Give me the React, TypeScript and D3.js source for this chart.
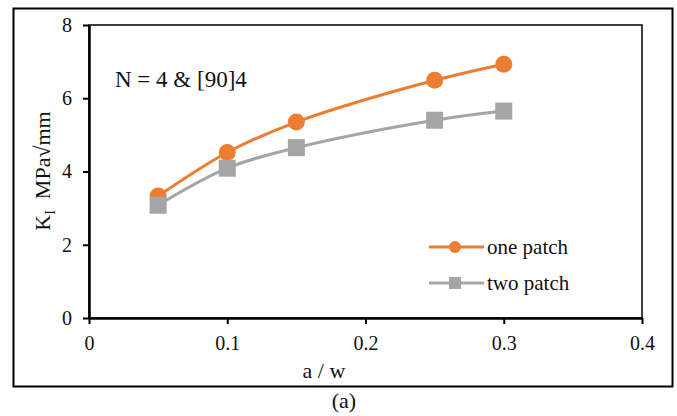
import { useEffect, useRef } from "react";
import * as d3 from "d3";

const W = 677,
  H = 416;
const margin = { top: 25, right: 35, bottom: 98, left: 89 };
const width = 642 - margin.left; // plot right edge at 642
const height = 318 - margin.top; // plot bottom at 318

const xValues = [0.05, 0.1, 0.15, 0.25, 0.3];
const onePatch = [3.33, 4.52, 5.35, 6.49, 6.93];
const twoPatch = [3.08, 4.09, 4.65, 5.4, 5.65];
const xTicks = [0, 0.1, 0.2, 0.3, 0.4];
const yTicks = [0, 2, 4, 6, 8];
const seriesNames = ["one patch", "two patch"];
const colors = ["#ED7D31", "#A5A5A5"];

const font = "Liberation Serif";

const App = () => {
  const ref = useRef<SVGSVGElement | null>(null);

  useEffect(() => {
    const svg = d3.select(ref.current);
    svg.selectAll("*").remove();

    // outer frame
    svg
      .append("rect")
      .attr("x", 13.5)
      .attr("y", 8.5)
      .attr("width", 659)
      .attr("height", 378)
      .attr("fill", "white")
      .attr("stroke", "black")
      .attr("stroke-width", 2);

    const g = svg
      .append("g")
      .attr("transform", "translate(" + margin.left + "," + margin.top + ")");

    const x = d3.scaleLinear().domain([0, 0.4]).range([0, width]);
    const y = d3.scaleLinear().domain([0, 8]).range([height, 0]);

    // plot border
    g.append("rect")
      .attr("width", width)
      .attr("height", height)
      .attr("fill", "none")
      .attr("stroke", "black")
      .attr("stroke-width", 1.5);

    const xAxis = g
      .append("g")
      .attr("transform", "translate(0," + height + ")")
      .call(
        d3
          .axisBottom(x)
          .tickValues(xTicks)
          .tickSize(6)
          .tickSizeOuter(0)
          .tickPadding(12)
          .tickFormat((d: any) => (d === 0 ? "0" : String(d)))
      );
    const yAxis = g.append("g").call(
      d3
        .axisLeft(y)
        .tickValues(yTicks)
        .tickSize(6)
        .tickSizeOuter(0)
        .tickPadding(11)
    );
    [xAxis, yAxis].forEach((a) => {
      a.attr("font-family", null).attr("font-size", null);
      a.select(".domain").attr("stroke", "black").attr("stroke-width", 2.5);
      a.selectAll(".tick line").attr("stroke", "black").attr("stroke-width", 2);
      a.selectAll("text")
        .style("font-family", font)
        .style("font-size", "20px")
        .attr("fill", "#111");
    });

    const line = d3
      .line<number>()
      .x((_, i) => x(xValues[i]))
      .y((d) => y(d))
      .curve(d3.curveCatmullRom.alpha(0.5));

    [onePatch, twoPatch].forEach((vals, si) => {
      g.append("path")
        .datum(vals)
        .attr("d", line)
        .attr("fill", "none")
        .attr("stroke", colors[si])
        .attr("stroke-width", 3);
    });

    // markers
    g.selectAll(".one")
      .data(onePatch)
      .enter()
      .append("circle")
      .attr("cx", (_, i) => x(xValues[i]))
      .attr("cy", (d) => y(d))
      .attr("r", 8.5)
      .attr("fill", colors[0]);
    g.selectAll(".two")
      .data(twoPatch)
      .enter()
      .append("rect")
      .attr("x", (_, i) => x(xValues[i]) - 8.5)
      .attr("y", (d) => y(d) - 8.5)
      .attr("width", 17)
      .attr("height", 17)
      .attr("fill", colors[1]);

    // annotation
    svg
      .append("text")
      .attr("x", 115)
      .attr("y", 87)
      .style("font-family", font)
      .style("font-size", "23px")
      .attr("fill", "#111")
      .text("N = 4 & [90]4");

    // legend
    seriesNames.forEach((name, i) => {
      const ly = 247 + i * 36;
      const lg = svg.append("g");
      lg.append("line")
        .attr("x1", 429)
        .attr("x2", 484)
        .attr("y1", ly)
        .attr("y2", ly)
        .attr("stroke", colors[i])
        .attr("stroke-width", 3);
      if (i === 0) {
        lg.append("circle")
          .attr("cx", 455)
          .attr("cy", ly)
          .attr("r", 6)
          .attr("fill", colors[i]);
      } else {
        lg.append("rect")
          .attr("x", 449)
          .attr("y", ly - 6)
          .attr("width", 12)
          .attr("height", 12)
          .attr("fill", colors[i]);
      }
      lg.append("text")
        .attr("x", 487)
        .attr("y", ly + 7)
        .style("font-family", font)
        .style("font-size", "21px")
        .attr("fill", "#111")
        .text(name);
    });

    // axis titles
    svg
      .append("text")
      .attr("x", 324)
      .attr("y", 378)
      .attr("text-anchor", "middle")
      .style("font-family", font)
      .style("font-size", "22px")
      .attr("fill", "#111")
      .text("a / w");

    const yt = svg
      .append("text")
      .attr("transform", "translate(50," + 171 + ") rotate(-90)")
      .attr("text-anchor", "middle")
      .style("font-family", font)
      .style("font-size", "22px")
      .attr("fill", "#111");
    yt.append("tspan").text("K");
    yt.append("tspan").style("font-size", "14px").attr("dy", 5).text("I");
    yt.append("tspan").attr("dy", -5).text("\u00a0 MPa\u221Amm");

    svg
      .append("text")
      .attr("x", 344)
      .attr("y", 408)
      .attr("text-anchor", "middle")
      .style("font-family", font)
      .style("font-size", "22px")
      .attr("fill", "#111")
      .text("(a)");
  }, []);

  return (
    <svg
      ref={ref}
      width={W}
      height={H}
      style={{ position: "absolute", left: 0, top: 0, background: "white" }}
    />
  );
};

export default App;
